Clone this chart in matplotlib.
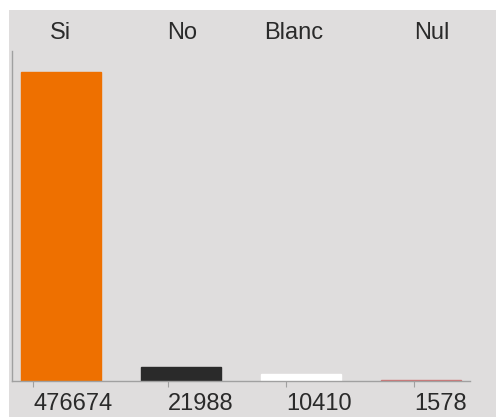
import matplotlib.pyplot as plt
from matplotlib.patches import Rectangle

# Data
categories = ["Si", "No", "Blanc", "Nul"]
votes = [476674, 21988, 10410, 1578]
bar_colors = ["#ee7000", "#2a2a2a", "#ffffff", "#d07272"]

BG = "#dfdddd"
W, H = 496, 417

fig = plt.figure(figsize=(W / 100, H / 100), dpi=100)
fig.patch.set_facecolor("white")
# grey panel behind everything (white strip at top and left)
fig.patches.append(Rectangle((9 / W, 0), 1, 1 - 10 / H, transform=fig.transFigure,
                             facecolor=BG, edgecolor="none", zorder=-10))

ax = fig.add_axes([12 / W, 36 / H, (470 - 12) / W, (381 - 51) / H])
ax.set_facecolor(BG)

x = list(range(len(categories)))
ax.bar(x, votes, width=0.667, color=bar_colors, edgecolor=bar_colors, linewidth=1.0)

ax.set_xlim(-0.408, 3.408)
ax.set_ylim(0, max(votes) * 330 / 309)

for s in ["top", "right"]:
    ax.spines[s].set_visible(False)
for s in ["left", "bottom"]:
    ax.spines[s].set_color("#a0a0a0")
    ax.spines[s].set_linewidth(1.0)

ax.set_yticks([])
# ticks sit left of bar centres, labels start at the tick
tick_off = [-0.233, -0.108, -0.125, -0.058]
ax.set_xticks([i + o for i, o in zip(x, tick_off)])
ax.set_xticklabels([str(v) for v in votes], fontsize=17,
                   fontfamily="Liberation Sans", ha="left", color="#2a2a2a")
ax.tick_params(axis="x", length=4, color="#a0a0a0", pad=5)

# category names across the top
top_off = [-0.092, -0.117, -0.308, -0.058]
for i, (name, o) in enumerate(zip(categories, top_off)):
    ax.text(i + o, 1.0 + 12 / 330, name, transform=ax.get_xaxis_transform(),
            ha="left", va="baseline", fontsize=17,
            fontfamily="Liberation Sans", color="#2a2a2a")

fig.savefig("out.png", dpi=100, facecolor=fig.get_facecolor())
